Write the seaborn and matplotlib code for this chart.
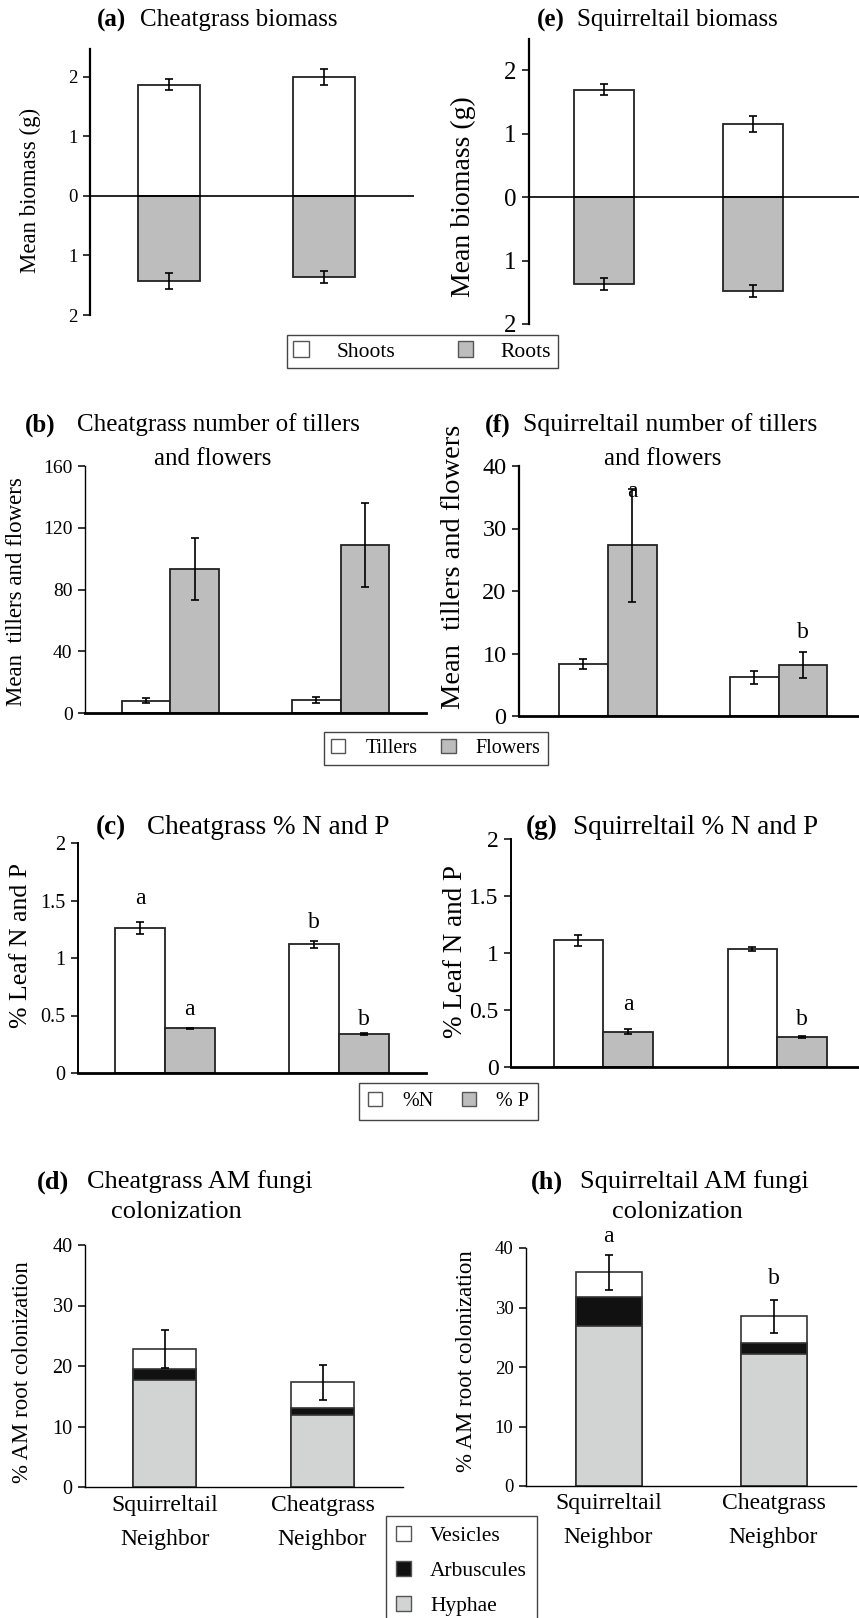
import numpy as np
import pandas as pd
import matplotlib
matplotlib.use("Agg")
import matplotlib.pyplot as plt
from matplotlib.patches import Patch
import seaborn as sns

neighbors = ["Squirreltail\nNeighbor", "Cheatgrass\nNeighbor"]

# (a) cheatgrass biomass, g (roots drawn downward)
cg_shoots = [1.87, 2.00]
cg_shoots_se = [0.09, 0.13]
cg_roots = [1.43, 1.36]
cg_roots_se = [0.13, 0.10]

# (e) squirreltail biomass, g
sq_shoots = [1.69, 1.15]
sq_shoots_se = [0.09, 0.13]
sq_roots = [1.37, 1.48]
sq_roots_se = [0.09, 0.10]

# (b) cheatgrass tillers / flowers
cg_tillers = [8.0, 8.5]
cg_tillers_se = [1.5, 2.0]
cg_flowers = [93.3, 108.8]
cg_flowers_se = [20.0, 27.5]

# (f) squirreltail tillers / flowers
sq_tillers = [8.3, 6.2]
sq_tillers_se = [0.8, 1.0]
sq_flowers = [27.3, 8.2]
sq_flowers_se = [9.1, 2.1]

# (c) cheatgrass leaf N and P (%)
cg_n = [1.26, 1.12]
cg_n_se = [0.05, 0.03]
cg_p = [0.387, 0.337]
cg_p_se = [0.008, 0.008]

# (g) squirreltail leaf N and P (%)
sq_n = [1.11, 1.035]
sq_n_se = [0.05, 0.02]
sq_p = [0.31, 0.262]
sq_p_se = [0.02, 0.008]

# (d) cheatgrass AM colonization (%)
cg_hyphae = [17.7, 11.9]
cg_arbuscules = [1.8, 1.1]
cg_vesicles = [3.3, 4.3]
cg_amf_se = [3.1, 2.9]

# (h) squirreltail AM colonization (%)
sq_hyphae = [26.9, 22.2]
sq_arbuscules = [4.8, 1.8]
sq_vesicles = [4.2, 4.5]
sq_amf_se = [2.95, 2.8]

GREY = "#bdbdbd"
HYPHAE = "#d2d3d3"
ARB = "#111111"
EDGE = "#222222"

sns.set_style("ticks")
plt.rcParams["font.family"] = ["Liberation Serif", "DejaVu Serif"]
plt.rcParams["text.color"] = "black"
plt.rcParams["axes.edgecolor"] = "black"
plt.rcParams["xtick.color"] = "black"
plt.rcParams["ytick.color"] = "black"

W, H = 859, 1618
fig = plt.figure(figsize=(W / 100, H / 100), dpi=100)


def add_ax(x0, y0, x1, y1):
    return fig.add_axes([x0 / W, 1 - y1 / H, (x1 - x0) / W, (y1 - y0) / H])


def ftext(x, y, s, **kw):
    fig.text(x / W, 1 - y / H, s, **kw)


def title(xl, xm, y, lab, main, size):
    ftext(xl, y, lab, weight="bold", va="center", size=size)
    ftext(xm, y, main, va="center", size=size)


def errbars(ax, x, y, e, capsize=3):
    ax.errorbar(x, y, yerr=e, fmt="none", ecolor="black", elinewidth=1.2,
                capsize=capsize, capthick=1.2, zorder=5)


def style(ax, ticks, labels, size, spine_lw=1.2, bottom=True, bottom_lw=2):
    sns.despine(ax=ax, bottom=not bottom)
    ax.set_yticks(ticks)
    ax.set_yticklabels(labels)
    ax.tick_params(axis="y", direction="out", length=5, width=1.1, labelsize=size, pad=4)
    ax.tick_params(axis="x", length=0, labelbottom=False)
    ax.spines["left"].set_linewidth(spine_lw)
    ax.spines["bottom"].set_linewidth(bottom_lw)
    ax.set_xlabel("")
    ax.set_ylabel("")


def diverging(ax, shoots, shoots_se, roots, roots_se):
    sns.barplot(x=neighbors, y=shoots, color="white", edgecolor=EDGE, linewidth=1.3,
                width=0.4, saturation=1, errorbar=None, ax=ax)
    sns.barplot(x=neighbors, y=-np.array(roots), color=GREY, edgecolor=EDGE, linewidth=1.3,
                width=0.4, saturation=1, errorbar=None, ax=ax)
    ax.axhline(0, color="black", lw=1.2, zorder=4)
    errbars(ax, [0, 1], shoots, shoots_se)
    errbars(ax, [0, 1], -np.array(roots), roots_se)


def grouped(ax, a, a_se, b, b_se, la, lb):
    df = pd.DataFrame({"neighbor": neighbors * 2, "measure": [la] * 2 + [lb] * 2,
                       "value": a + b})
    sns.barplot(data=df, x="neighbor", y="value", hue="measure",
                palette={la: "white", lb: GREY}, width=0.57, edgecolor=EDGE,
                linewidth=1.3, saturation=1, errorbar=None, legend=False, ax=ax)
    for p, e in zip(ax.patches, a_se + b_se):
        errbars(ax, p.get_x() + p.get_width() / 2, p.get_height(), e)


def stacked(ax, hyphae, arb, ves, se):
    ha = np.add(hyphae, arb)
    total = ha + np.array(ves)
    for vals, col in [(total, "white"), (ha, ARB), (hyphae, HYPHAE)]:
        sns.barplot(x=neighbors, y=vals, color=col, edgecolor="#333333", linewidth=1.2,
                    width=0.4, saturation=1, errorbar=None, ax=ax)
    errbars(ax, [0, 1], total, se)


def letters(ax, xs, ys, texts, off, size=17):
    for x, y, t, o in zip(xs, ys, texts, off):
        ax.annotate(t, (x, y), xytext=(0, o), textcoords="offset points",
                    ha="center", va="center", size=size)


def legend(handles, labels, x, y, **kw):
    fig.legend(handles=handles, labels=labels, loc="upper left",
               bbox_to_anchor=(x / W, 1 - y / H), borderaxespad=0, frameon=True,
               fancybox=False, edgecolor="#444444", framealpha=1, handlelength=0.7,
               handleheight=0.7, **kw)


def sq(color):
    return Patch(facecolor=color, edgecolor="#555555")


# ---------- (a) ----------
ax = add_ax(90, 49, 414, 315)
diverging(ax, cg_shoots, cg_shoots_se, cg_roots, cg_roots_se)
ax.set_ylim(-2, 2.47)
ax.set_xlim(-0.51, 1.58)
style(ax, [-2, -1, 0, 1, 2], ["2", "1", "0", "1", "2"], 13.5, spine_lw=1.6, bottom=False)
title(97, 140, 20, "(a)", "Cheatgrass biomass", 18)
ftext(30, 190, "Mean biomass (g)", rotation=90, ha="center", va="center", size=16.5)

# ---------- (e) ----------
ax = add_ax(529, 39, 859, 324)
diverging(ax, sq_shoots, sq_shoots_se, sq_roots, sq_roots_se)
ax.set_ylim(-2, 2.49)
ax.set_xlim(-0.5, 1.71)
style(ax, [-2, -1, 0, 1, 2], ["2", "1", "0", "1", "2"], 18, spine_lw=1.6, bottom=False)
title(537, 577, 20, "(e)", "Squirreltail biomass", 18)
ftext(463, 197, "Mean biomass (g)", rotation=90, ha="center", va="center", size=20)

legend([sq("white"), sq(GREY)], ["Shoots", "Roots"], 287, 335, ncol=2, fontsize=15.5,
       handletextpad=1.3, columnspacing=2.9, borderpad=0.3)

# ---------- (b) ----------
ax = add_ax(85, 466, 426, 713)
grouped(ax, cg_tillers, cg_tillers_se, cg_flowers, cg_flowers_se, "Tillers", "Flowers")
ax.set_ylim(0, 160)
ax.set_xlim(-0.5, 1.5)
style(ax, [0, 40, 80, 120, 160], ["0", "40", "80", "120", "160"], 14, spine_lw=1.0)
title(25, 77, 425, "(b)", "Cheatgrass number of tillers", 18)
ftext(213, 459, "and flowers", ha="center", va="center", size=18)
ftext(17, 592, "Mean  tillers and flowers", rotation=90, ha="center", va="center", size=16.5)

# ---------- (f) ----------
ax = add_ax(519, 466, 859, 716)
grouped(ax, sq_tillers, sq_tillers_se, sq_flowers, sq_flowers_se, "Tillers", "Flowers")
ax.set_ylim(0, 40)
ax.set_xlim(-0.52, 1.47)
style(ax, [0, 10, 20, 30, 40], ["0", "10", "20", "30", "40"], 17.5, spine_lw=1.6)
letters(ax, [0.1425, 1.1425], [36.4, 10.3], ["a", "b"], [-2, 14])
title(485, 523, 425, "(f)", "Squirreltail number of tillers", 18.5)
ftext(663, 459, "and flowers", ha="center", va="center", size=18)
ftext(453, 567, "Mean  tillers and flowers", rotation=90, ha="center", va="center", size=20.5)

legend([sq("white"), sq(GREY)], ["Tillers", "Flowers"], 324, 732, ncol=2, fontsize=14.5,
       handletextpad=1.0, columnspacing=1.2, borderpad=0.35)

# ---------- (c) ----------
ax = add_ax(78, 843, 426, 1073)
grouped(ax, cg_n, cg_n_se, cg_p, cg_p_se, "%N", "% P")
ax.set_ylim(0, 2)
ax.set_xlim(-0.5, 1.5)
style(ax, [0, 0.5, 1, 1.5, 2], ["0", "0.5", "1", "1.5", "2"], 14.5, spine_lw=1.4)
letters(ax, [-0.1425, 0.1425, 0.8575, 1.1425], [1.31, 0.395, 1.15, 0.345],
        ["a", "a", "b", "b"], [17, 13, 13, 10])
title(96, 147, 828, "(c)", "Cheatgrass % N and P", 19.5)
ftext(21, 945, "% Leaf N and P", rotation=90, ha="center", va="center", size=18.5)

# ---------- (g) ----------
ax = add_ax(511, 839, 859, 1067)
grouped(ax, sq_n, sq_n_se, sq_p, sq_p_se, "%N", "% P")
ax.set_ylim(0, 2)
ax.set_xlim(-0.53, 1.47)
style(ax, [0, 0.5, 1, 1.5, 2], ["0", "0.5", "1", "1.5", "2"], 17, spine_lw=1.4)
letters(ax, [0.1425, 1.1425], [0.33, 0.27], ["a", "b"], [18, 12])
title(526, 573, 827, "(g)", "Squirreltail % N and P", 19.5)
ftext(455, 951, "% Leaf N and P", rotation=90, ha="center", va="center", size=19.5)

legend([sq("white"), sq(GREY)], ["%N", "% P"], 359, 1083, ncol=2, fontsize=14.5,
       handletextpad=1.0, columnspacing=1.4, borderpad=0.45)

# ---------- (d) ----------
ax = add_ax(85, 1245, 403, 1487)
stacked(ax, cg_hyphae, cg_arbuscules, cg_vesicles, cg_amf_se)
ax.set_ylim(0, 40)
ax.set_xlim(-0.505, 1.51)
style(ax, [0, 10, 20, 30, 40], ["0", "10", "20", "30", "40"], 14.5, spine_lw=1.0, bottom_lw=1.0)
ax.tick_params(axis="x", length=0, labelbottom=True, labelsize=17, pad=6)
for lbl in ax.get_xticklabels():
    lbl.set_linespacing(1.8)
title(37, 87, 1182, "(d)", "Cheatgrass AM fungi", 19)
ftext(176, 1212, "colonization", ha="center", va="center", size=19)
ftext(23, 1372, "% AM root colonization", rotation=90, ha="center", va="center", size=16.5)

# ---------- (h) ----------
ax = add_ax(526, 1248, 856, 1486)
stacked(ax, sq_hyphae, sq_arbuscules, sq_vesicles, sq_amf_se)
ax.set_ylim(0, 40)
ax.set_xlim(-0.5, 1.5)
style(ax, [0, 10, 20, 30, 40], ["0", "10", "20", "30", "40"], 13.5, spine_lw=1.0, bottom_lw=1.0)
ax.tick_params(axis="x", length=0, labelbottom=True, labelsize=17, pad=5)
for lbl in ax.get_xticklabels():
    lbl.set_linespacing(1.8)
letters(ax, [0, 1], [38.85, 31.3], ["a", "b"], [13, 15])
title(531, 580, 1182, "(h)", "Squirreltail AM fungi", 19)
ftext(677, 1212, "colonization", ha="center", va="center", size=19)
ftext(466, 1361, "% AM root colonization", rotation=90, ha="center", va="center", size=16.5)

legend([sq("white"), sq(ARB), sq(HYPHAE)], ["Vesicles", "Arbuscules", "Hyphae"], 386, 1516,
       ncol=1, fontsize=15.5, handletextpad=0.9, labelspacing=0.7, borderpad=0.45)

fig.savefig("out.png", dpi=100)
